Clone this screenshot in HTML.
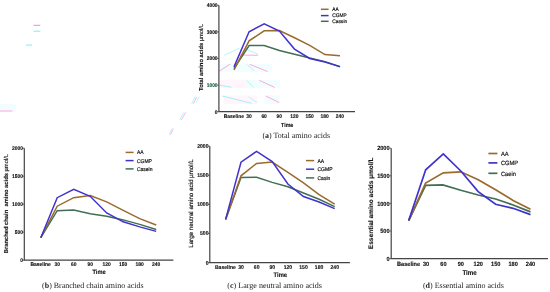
<!DOCTYPE html>
<html><head><meta charset="utf-8"><style>
html,body{margin:0;padding:0;background:#fff;width:550px;height:292px;overflow:hidden}
svg{display:block;will-change:transform;text-rendering:geometricPrecision}
.b{font-family:"Liberation Sans",sans-serif;font-weight:bold;fill:#111;stroke:#111;stroke-width:0.12px}
.r{font-family:"Liberation Sans",sans-serif;fill:#111;stroke:#111;stroke-width:0.18px}
.s{font-family:"Liberation Serif",serif;fill:#222}
</style></head><body>
<svg width="550" height="292" viewBox="0 0 550 292">
<rect width="550" height="292" fill="#fff"/>
<rect x="0" y="104" width="15.90" height="7.70" fill="#f2fdfd"/>
<rect x="223.7" y="95.3" width="33.50" height="8.70" fill="#fff5fb"/>
<rect x="264.5" y="95.3" width="15.20" height="8.70" fill="#f2fdfd"/>
<rect x="245" y="63.8" width="26.80" height="8.20" fill="#f2fdfd"/>
<rect x="245" y="79.7" width="35.00" height="8.30" fill="#f2fdfd"/>
<rect x="219.5" y="79.7" width="25.50" height="8.30" fill="#fff5fb"/>
<rect x="219.5" y="63.8" width="25.50" height="8.20" fill="#f2fdfd"/>
<path d="M33.5 25.3L40.3 25.3" stroke="#ff7ee0" stroke-width="1.0"/>
<path d="M33.5 31.2L40.3 31.2" stroke="#7aeef6" stroke-width="1.0"/>
<path d="M26 45.1L32.1 45.1" stroke="#7aeef6" stroke-width="1.0"/>
<path d="M0 111L12.4 111" stroke="#ffa6e2" stroke-width="1.0"/>
<path d="M191.7 103.7L195.1 96.8" stroke="#9ef2f6" stroke-width="0.8"/>
<path d="M193.4 103.7L196.8 96.8" stroke="#ffa6e2" stroke-width="0.8"/>
<path d="M196 102.8L199.4 96.8" stroke="#9ef2f6" stroke-width="0.7"/>
<path d="M179.7 120L184 112.3" stroke="#9ef2f6" stroke-width="0.8"/>
<path d="M181.4 120L185.7 112.3" stroke="#ffa6e2" stroke-width="0.8"/>
<path d="M169.4 134.5L172 128.5" stroke="#9ef2f6" stroke-width="0.8"/>
<path d="M170.3 134.9L173.4 128.5" stroke="#ffa6e2" stroke-width="0.8"/>
<path d="M224.2 55.3L239.6 48.1" stroke="#9ef2f6" stroke-width="0.8"/>
<path d="M245.8 49.1L258.1 54.2" stroke="#9ef2f6" stroke-width="0.8"/>
<path d="M238.6 55L258.1 55.3" stroke="#ffa6e2" stroke-width="1.0"/>
<path d="M219.1 71.2L230.4 64" stroke="#ffa6e2" stroke-width="1.0"/>
<path d="M249.9 64.4L267.5 71.5" stroke="#ffa6e2" stroke-width="1.0"/>
<path d="M247.7 64.4L254.3 71" stroke="#9ef2f6" stroke-width="0.8"/>
<path d="M259.2 80.3L274.6 87.4" stroke="#ffa6e2" stroke-width="1.0"/>
<path d="M246.6 80.3L253.8 87.4" stroke="#9ef2f6" stroke-width="0.8"/>
<path d="M219.4 85.1L231.4 87.3" stroke="#9ef2f6" stroke-width="1.0"/>
<path d="M222.3 96L251.4 103.3" stroke="#9ef2f6" stroke-width="1.0"/>
<path d="M248.5 96.7L257.2 102.5" stroke="#9ef2f6" stroke-width="0.7"/>
<path d="M265.9 96L279 102.5" stroke="#ffa6e2" stroke-width="1.0"/>
<path d="M218.90 5.30V111.60H355.00" fill="none" stroke="#444" stroke-width="1.2"/>
<path d="M217.30 5.30H218.90" stroke="#444" stroke-width="0.8"/>
<text x="217.60" y="7.21" text-anchor="end" class="b" font-size="5.29" textLength="10.90" lengthAdjust="spacingAndGlyphs">4000</text>
<path d="M217.30 31.88H218.90" stroke="#444" stroke-width="0.8"/>
<text x="217.60" y="33.78" text-anchor="end" class="b" font-size="5.29" textLength="10.90" lengthAdjust="spacingAndGlyphs">3000</text>
<path d="M217.30 58.45H218.90" stroke="#444" stroke-width="0.8"/>
<text x="217.60" y="60.36" text-anchor="end" class="b" font-size="5.29" textLength="10.90" lengthAdjust="spacingAndGlyphs">2000</text>
<path d="M217.30 85.02H218.90" stroke="#444" stroke-width="0.8"/>
<text x="217.60" y="86.93" text-anchor="end" class="b" font-size="5.29" textLength="10.90" lengthAdjust="spacingAndGlyphs" style="fill:#1f5a40;stroke:#1f5a40">1000</text>
<path d="M217.30 111.60H218.90" stroke="#444" stroke-width="0.8"/>
<text x="217.60" y="113.51" text-anchor="end" class="b" font-size="5.29" textLength="2.73" lengthAdjust="spacingAndGlyphs">0</text>
<text x="233.80" y="117.81" text-anchor="middle" class="b" font-size="5.29" textLength="20.16" lengthAdjust="spacingAndGlyphs">Baseline</text>
<text x="248.95" y="117.81" text-anchor="middle" class="b" font-size="5.29" textLength="5.45" lengthAdjust="spacingAndGlyphs">30</text>
<text x="264.10" y="117.81" text-anchor="middle" class="b" font-size="5.29" textLength="5.45" lengthAdjust="spacingAndGlyphs">60</text>
<text x="279.25" y="117.81" text-anchor="middle" class="b" font-size="5.29" textLength="5.45" lengthAdjust="spacingAndGlyphs">90</text>
<text x="294.40" y="117.81" text-anchor="middle" class="b" font-size="5.29" textLength="8.18" lengthAdjust="spacingAndGlyphs">120</text>
<text x="309.55" y="117.81" text-anchor="middle" class="b" font-size="5.29" textLength="8.18" lengthAdjust="spacingAndGlyphs">150</text>
<text x="324.70" y="117.81" text-anchor="middle" class="b" font-size="5.29" textLength="8.18" lengthAdjust="spacingAndGlyphs">180</text>
<text x="339.85" y="117.81" text-anchor="middle" class="b" font-size="5.29" textLength="8.18" lengthAdjust="spacingAndGlyphs">240</text>
<text x="287.20" y="126.52" text-anchor="middle" class="b" font-size="5.90" textLength="12.20" lengthAdjust="spacingAndGlyphs">Time</text>
<text transform="translate(200.60 57.40) rotate(-90)" x="0" y="2.07" text-anchor="middle" class="b" font-size="5.74" textLength="67.00" lengthAdjust="spacingAndGlyphs">Total amino acids <tspan font-weight="normal">µmol/L</tspan></text>
<path d="M320.90 9.30H328.60" stroke="#9a6a2e" stroke-width="1.5"/>
<text x="332.30" y="11.17" class="r" font-size="5.18" textLength="6.40" lengthAdjust="spacingAndGlyphs">AA</text>
<path d="M320.90 15.60H328.60" stroke="#4232cc" stroke-width="1.5"/>
<text x="332.30" y="17.47" class="r" font-size="5.18" textLength="14.40" lengthAdjust="spacingAndGlyphs">CGMP</text>
<path d="M320.90 21.30H328.60" stroke="#416f55" stroke-width="1.5"/>
<text x="332.30" y="23.17" class="r" font-size="5.18" textLength="14.94" lengthAdjust="spacingAndGlyphs">Casein</text>
<text x="262.40" y="138.10" class="s" font-size="8" textLength="67.60" lengthAdjust="spacingAndGlyphs">(<tspan font-weight="bold">a</tspan>) Total amino acids</text>
<path d="M234.00 68.70 L249.10 45.50 L264.20 45.50 L279.40 50.50 L294.50 54.30 L309.70 58.00 L324.90 61.60 L340.00 66.80" fill="none" stroke="#416f55" stroke-width="1.5" stroke-linejoin="miter"/>
<path d="M234.00 69.90 L249.10 40.80 L264.20 30.80 L279.40 30.60 L294.50 37.80 L309.70 45.40 L324.90 54.60 L340.00 55.70" fill="none" stroke="#9a6a2e" stroke-width="1.5" stroke-linejoin="miter"/>
<path d="M234.00 66.90 L249.10 31.80 L264.20 23.80 L279.40 31.00 L294.50 49.10 L309.70 58.50 L324.90 62.00 L340.00 66.60" fill="none" stroke="#4232cc" stroke-width="1.5" stroke-linejoin="miter"/>
<path d="M24.30 148.20V260.10H173.40" fill="none" stroke="#444" stroke-width="1.2"/>
<path d="M22.70 148.20H24.30" stroke="#444" stroke-width="0.8"/>
<text x="23.00" y="150.12" text-anchor="end" class="b" font-size="5.35" textLength="11.01" lengthAdjust="spacingAndGlyphs">2000</text>
<path d="M22.70 176.18H24.30" stroke="#444" stroke-width="0.8"/>
<text x="23.00" y="178.10" text-anchor="end" class="b" font-size="5.35" textLength="11.01" lengthAdjust="spacingAndGlyphs">1500</text>
<path d="M22.70 204.15H24.30" stroke="#444" stroke-width="0.8"/>
<text x="23.00" y="206.07" text-anchor="end" class="b" font-size="5.35" textLength="11.01" lengthAdjust="spacingAndGlyphs">1000</text>
<path d="M22.70 232.12H24.30" stroke="#444" stroke-width="0.8"/>
<text x="23.00" y="234.05" text-anchor="end" class="b" font-size="5.35" textLength="8.26" lengthAdjust="spacingAndGlyphs">500</text>
<path d="M22.70 260.10H24.30" stroke="#444" stroke-width="0.8"/>
<text x="23.00" y="262.02" text-anchor="end" class="b" font-size="5.35" textLength="2.75" lengthAdjust="spacingAndGlyphs">0</text>
<text x="40.70" y="266.12" text-anchor="middle" class="b" font-size="5.35" textLength="20.36" lengthAdjust="spacingAndGlyphs">Baseline</text>
<text x="57.20" y="266.12" text-anchor="middle" class="b" font-size="5.35" textLength="5.51" lengthAdjust="spacingAndGlyphs">30</text>
<text x="73.70" y="266.12" text-anchor="middle" class="b" font-size="5.35" textLength="5.51" lengthAdjust="spacingAndGlyphs">60</text>
<text x="90.20" y="266.12" text-anchor="middle" class="b" font-size="5.35" textLength="5.51" lengthAdjust="spacingAndGlyphs">90</text>
<text x="106.70" y="266.12" text-anchor="middle" class="b" font-size="5.35" textLength="8.26" lengthAdjust="spacingAndGlyphs">120</text>
<text x="123.20" y="266.12" text-anchor="middle" class="b" font-size="5.35" textLength="8.26" lengthAdjust="spacingAndGlyphs">150</text>
<text x="139.70" y="266.12" text-anchor="middle" class="b" font-size="5.35" textLength="8.26" lengthAdjust="spacingAndGlyphs">180</text>
<text x="156.20" y="266.12" text-anchor="middle" class="b" font-size="5.35" textLength="8.26" lengthAdjust="spacingAndGlyphs">240</text>
<text x="99.00" y="274.36" text-anchor="middle" class="b" font-size="6.29" textLength="13.00" lengthAdjust="spacingAndGlyphs">Time</text>
<text transform="translate(5.60 203.60) rotate(-90)" x="0" y="2.08" text-anchor="middle" class="b" font-size="5.77" textLength="99.20" lengthAdjust="spacingAndGlyphs">Branched chain&#160;&#160;amino acids <tspan font-weight="normal">µmol/L</tspan></text>
<path d="M125.60 152.40H133.60" stroke="#9a6a2e" stroke-width="1.5"/>
<text x="136.90" y="154.34" class="r" font-size="5.40" textLength="6.67" lengthAdjust="spacingAndGlyphs">AA</text>
<path d="M125.60 160.60H133.60" stroke="#4232cc" stroke-width="1.5"/>
<text x="136.90" y="162.54" class="r" font-size="5.40" textLength="15.00" lengthAdjust="spacingAndGlyphs">CGMP</text>
<path d="M125.60 168.90H133.60" stroke="#416f55" stroke-width="1.5"/>
<text x="136.90" y="170.84" class="r" font-size="5.40" textLength="15.56" lengthAdjust="spacingAndGlyphs">Casein</text>
<text x="42.10" y="287.80" class="s" font-size="8" textLength="101.40" lengthAdjust="spacingAndGlyphs">(<tspan font-weight="bold">b</tspan>) Branched chain amino acids</text>
<path d="M40.80 237.70 L57.20 210.70 L73.70 210.00 L90.20 213.80 L106.70 216.20 L123.20 219.90 L139.70 224.40 L156.20 229.50" fill="none" stroke="#416f55" stroke-width="1.5" stroke-linejoin="miter"/>
<path d="M40.80 237.70 L57.20 206.20 L73.70 197.70 L90.20 195.60 L106.70 201.90 L123.20 210.30 L139.70 218.60 L156.20 225.00" fill="none" stroke="#9a6a2e" stroke-width="1.5" stroke-linejoin="miter"/>
<path d="M40.80 237.70 L57.20 197.70 L73.70 189.40 L90.20 196.30 L106.70 213.00 L123.20 221.80 L139.70 226.90 L156.20 231.40" fill="none" stroke="#4232cc" stroke-width="1.5" stroke-linejoin="miter"/>
<path d="M209.80 146.20V262.60H349.90" fill="none" stroke="#444" stroke-width="1.2"/>
<path d="M208.20 146.20H209.80" stroke="#444" stroke-width="0.8"/>
<text x="208.50" y="148.18" text-anchor="end" class="b" font-size="5.51" textLength="11.35" lengthAdjust="spacingAndGlyphs">2000</text>
<path d="M208.20 175.30H209.80" stroke="#444" stroke-width="0.8"/>
<text x="208.50" y="177.28" text-anchor="end" class="b" font-size="5.51" textLength="11.35" lengthAdjust="spacingAndGlyphs">1500</text>
<path d="M208.20 204.40H209.80" stroke="#444" stroke-width="0.8"/>
<text x="208.50" y="206.38" text-anchor="end" class="b" font-size="5.51" textLength="11.35" lengthAdjust="spacingAndGlyphs">1000</text>
<path d="M208.20 233.50H209.80" stroke="#444" stroke-width="0.8"/>
<text x="208.50" y="235.48" text-anchor="end" class="b" font-size="5.51" textLength="8.51" lengthAdjust="spacingAndGlyphs">500</text>
<path d="M208.20 262.60H209.80" stroke="#444" stroke-width="0.8"/>
<text x="208.50" y="264.58" text-anchor="end" class="b" font-size="5.51" textLength="2.84" lengthAdjust="spacingAndGlyphs">0</text>
<text x="225.40" y="268.78" text-anchor="middle" class="b" font-size="5.51" textLength="20.98" lengthAdjust="spacingAndGlyphs">Baseline</text>
<text x="241.02" y="268.78" text-anchor="middle" class="b" font-size="5.51" textLength="5.67" lengthAdjust="spacingAndGlyphs">30</text>
<text x="256.64" y="268.78" text-anchor="middle" class="b" font-size="5.51" textLength="5.67" lengthAdjust="spacingAndGlyphs">60</text>
<text x="272.26" y="268.78" text-anchor="middle" class="b" font-size="5.51" textLength="5.67" lengthAdjust="spacingAndGlyphs">90</text>
<text x="287.88" y="268.78" text-anchor="middle" class="b" font-size="5.51" textLength="8.51" lengthAdjust="spacingAndGlyphs">120</text>
<text x="303.50" y="268.78" text-anchor="middle" class="b" font-size="5.51" textLength="8.51" lengthAdjust="spacingAndGlyphs">150</text>
<text x="319.12" y="268.78" text-anchor="middle" class="b" font-size="5.51" textLength="8.51" lengthAdjust="spacingAndGlyphs">180</text>
<text x="334.74" y="268.78" text-anchor="middle" class="b" font-size="5.51" textLength="8.51" lengthAdjust="spacingAndGlyphs">240</text>
<text x="280.30" y="276.93" text-anchor="middle" class="b" font-size="6.48" textLength="13.40" lengthAdjust="spacingAndGlyphs">Time</text>
<text transform="translate(191.10 203.50) rotate(-90)" x="0" y="2.20" text-anchor="middle" class="r" font-size="6.1" textLength="88.60" lengthAdjust="spacingAndGlyphs">Large neutral amino acid µmol/L</text>
<path d="M306.00 160.60H314.20" stroke="#9a6a2e" stroke-width="1.5"/>
<text x="317.50" y="162.54" class="r" font-size="5.40" textLength="6.67" lengthAdjust="spacingAndGlyphs">AA</text>
<path d="M306.00 169.20H314.20" stroke="#4232cc" stroke-width="1.5"/>
<text x="317.50" y="171.14" class="r" font-size="5.40" textLength="15.00" lengthAdjust="spacingAndGlyphs">CGMP</text>
<path d="M306.00 177.90H314.20" stroke="#416f55" stroke-width="1.5"/>
<text x="317.50" y="179.84" class="r" font-size="5.40" textLength="12.78" lengthAdjust="spacingAndGlyphs">Casin</text>
<text x="227.30" y="287.80" class="s" font-size="8" textLength="94.70" lengthAdjust="spacingAndGlyphs">(<tspan font-weight="bold">c</tspan>) Large neutral amino acids</text>
<path d="M225.60 219.40 L241.00 177.40 L256.60 177.20 L272.20 182.40 L287.90 186.70 L303.50 193.00 L319.10 199.30 L334.70 206.60" fill="none" stroke="#416f55" stroke-width="1.5" stroke-linejoin="miter"/>
<path d="M225.60 219.40 L241.00 175.80 L256.60 163.40 L272.20 162.00 L287.90 172.30 L303.50 182.80 L319.10 194.60 L334.70 204.20" fill="none" stroke="#9a6a2e" stroke-width="1.5" stroke-linejoin="miter"/>
<path d="M225.60 219.40 L241.00 162.20 L256.60 151.30 L272.20 161.50 L287.90 184.00 L303.50 196.50 L319.10 202.00 L334.70 208.60" fill="none" stroke="#4232cc" stroke-width="1.5" stroke-linejoin="miter"/>
<path d="M391.20 148.20V258.60H548.00" fill="none" stroke="#444" stroke-width="1.2"/>
<path d="M389.60 148.20H391.20" stroke="#444" stroke-width="0.8"/>
<text x="389.60" y="150.38" text-anchor="end" class="b" font-size="6.05" textLength="12.46" lengthAdjust="spacingAndGlyphs">2000</text>
<path d="M389.60 175.80H391.20" stroke="#444" stroke-width="0.8"/>
<text x="389.60" y="177.98" text-anchor="end" class="b" font-size="6.05" textLength="12.46" lengthAdjust="spacingAndGlyphs">1500</text>
<path d="M389.60 203.40H391.20" stroke="#444" stroke-width="0.8"/>
<text x="389.60" y="205.58" text-anchor="end" class="b" font-size="6.05" textLength="12.46" lengthAdjust="spacingAndGlyphs">1000</text>
<path d="M389.60 231.00H391.20" stroke="#444" stroke-width="0.8"/>
<text x="389.60" y="233.18" text-anchor="end" class="b" font-size="6.05" textLength="9.35" lengthAdjust="spacingAndGlyphs">500</text>
<path d="M389.60 258.60H391.20" stroke="#444" stroke-width="0.8"/>
<text x="389.60" y="260.78" text-anchor="end" class="b" font-size="6.05" textLength="3.12" lengthAdjust="spacingAndGlyphs">0</text>
<text x="408.60" y="266.08" text-anchor="middle" class="b" font-size="6.05" textLength="23.03" lengthAdjust="spacingAndGlyphs">Baseline</text>
<text x="426.02" y="266.08" text-anchor="middle" class="b" font-size="6.05" textLength="6.23" lengthAdjust="spacingAndGlyphs">30</text>
<text x="443.44" y="266.08" text-anchor="middle" class="b" font-size="6.05" textLength="6.23" lengthAdjust="spacingAndGlyphs">60</text>
<text x="460.86" y="266.08" text-anchor="middle" class="b" font-size="6.05" textLength="6.23" lengthAdjust="spacingAndGlyphs">90</text>
<text x="478.28" y="266.08" text-anchor="middle" class="b" font-size="6.05" textLength="9.35" lengthAdjust="spacingAndGlyphs">120</text>
<text x="495.70" y="266.08" text-anchor="middle" class="b" font-size="6.05" textLength="9.35" lengthAdjust="spacingAndGlyphs">150</text>
<text x="513.12" y="266.08" text-anchor="middle" class="b" font-size="6.05" textLength="9.35" lengthAdjust="spacingAndGlyphs">180</text>
<text x="530.54" y="266.08" text-anchor="middle" class="b" font-size="6.05" textLength="9.35" lengthAdjust="spacingAndGlyphs">240</text>
<text x="469.60" y="274.59" text-anchor="middle" class="b" font-size="6.91" textLength="14.29" lengthAdjust="spacingAndGlyphs">Time</text>
<text transform="translate(370.20 203.35) rotate(-90)" x="0" y="2.36" text-anchor="middle" class="b" font-size="6.56" textLength="91.70" lengthAdjust="spacingAndGlyphs">Essential amino acids µmol/L</text>
<path d="M488.40 153.50H497.40" stroke="#9a6a2e" stroke-width="1.7"/>
<text x="501.00" y="155.72" class="r" font-size="6.16" textLength="7.60" lengthAdjust="spacingAndGlyphs">AA</text>
<path d="M488.40 162.90H497.40" stroke="#4232cc" stroke-width="1.7"/>
<text x="501.00" y="165.12" class="r" font-size="6.16" textLength="17.10" lengthAdjust="spacingAndGlyphs">CGMP</text>
<path d="M488.40 173.30H497.40" stroke="#416f55" stroke-width="1.7"/>
<text x="501.00" y="175.52" class="r" font-size="6.16" textLength="14.89" lengthAdjust="spacingAndGlyphs">Caein</text>
<text x="422.90" y="288.30" class="s" font-size="8" textLength="80.90" lengthAdjust="spacingAndGlyphs">(<tspan font-weight="bold">d</tspan>) Essential amino acids</text>
<path d="M408.70 220.60 L425.60 185.30 L442.80 184.90 L460.80 190.30 L478.20 195.00 L495.60 199.00 L513.10 205.00 L530.50 211.90" fill="none" stroke="#416f55" stroke-width="1.7" stroke-linejoin="miter"/>
<path d="M408.70 220.60 L425.60 183.10 L443.30 172.80 L460.80 171.80 L478.20 179.80 L495.60 189.70 L513.10 200.50 L530.50 209.30" fill="none" stroke="#9a6a2e" stroke-width="1.7" stroke-linejoin="miter"/>
<path d="M408.70 220.60 L425.70 169.80 L443.30 153.80 L460.80 171.00 L478.20 191.60 L495.60 204.30 L513.10 208.30 L530.50 214.60" fill="none" stroke="#4232cc" stroke-width="1.7" stroke-linejoin="miter"/>
</svg>
</body></html>
